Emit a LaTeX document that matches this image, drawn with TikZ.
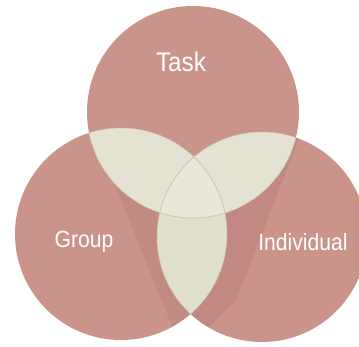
\documentclass[tikz,border=0pt]{standalone}
\usepackage{fontspec}
\newfontfamily\lab[FakeStretch=0.9]{Liberation Sans}
\begin{document}
\begin{tikzpicture}[x=1pt,y=-1pt]
\definecolor{rose}{RGB}{202,148,138}
\definecolor{roseshade}{RGB}{170,110,106}
\definecolor{beigeA}{RGB}{228,227,211}
\definecolor{beigeB}{RGB}{224,222,204}
\definecolor{beigeC}{RGB}{234,232,219}
\definecolor{edge}{RGB}{205,198,180}
\tikzset{
  lbl/.style={text=white, inner sep=0pt, font=\lab},
  petal/.style={fill=rose},
  inner edge/.style={draw=edge, line width=0.5pt}
}
\useasboundingbox (0,0) rectangle (359,346);
\fill[white] (0,0) rectangle (359,346);
\clip (0,0) rectangle (359,346);
\coordinate (T) at (193,112);
\coordinate (G) at (121,234);
\coordinate (I) at (262,237);
% base circles
\fill[petal] (G) circle[radius=106pt];
\fill[petal] (I) circle[radius=105pt];
\fill[petal] (T) circle[radius=106pt];
% soft shadows
\begin{scope}
  \clip (G) circle[radius=106pt];
  \fill[roseshade, opacity=0.22] (97,140) -- (200,140) -- (200,346) -- (180,346) -- cycle;
\end{scope}
\begin{scope}
  \clip (I) circle[radius=105pt];
  \fill[roseshade, opacity=0.28] (300,136) -- (190,136) -- (190,346) -- (236,300) -- cycle;
\end{scope}
% pairwise overlaps
\begin{scope}
  \clip (T) circle[radius=106pt];
  \fill[beigeA] (G) circle[radius=106pt];
  \fill[beigeA] (I) circle[radius=105pt];
\end{scope}
\begin{scope}
  \clip (G) circle[radius=106pt];
  \fill[beigeB] (I) circle[radius=105pt];
\end{scope}
% triple overlap
\begin{scope}
  \clip (T) circle[radius=106pt];
  \clip (G) circle[radius=106pt];
  \fill[beigeC] (I) circle[radius=105pt];
\end{scope}
% inner arcs
\begin{scope}
  \clip (T) circle[radius=106pt];
  \draw[inner edge] (G) circle[radius=106pt];
  \draw[inner edge] (I) circle[radius=105pt];
\end{scope}
\begin{scope}
  \clip (G) circle[radius=106pt];
  \draw[inner edge] (I) circle[radius=105pt];
  \draw[inner edge] (T) circle[radius=106pt];
\end{scope}
\begin{scope}
  \clip (I) circle[radius=105pt];
  \draw[inner edge] (T) circle[radius=106pt];
  \draw[inner edge] (G) circle[radius=106pt];
\end{scope}
% labels
\node[lbl, font=\lab\fontsize{27}{27}\selectfont] (task) at (181,62) {Task};
\node[lbl, font=\lab\fontsize{23.5}{23.5}\selectfont] (group) at (84,242) {Group};
\node[lbl, font=\lab\fontsize{23.5}{23.5}\selectfont] (indiv) at (303,242) {Individual};
\end{tikzpicture}
\end{document}
